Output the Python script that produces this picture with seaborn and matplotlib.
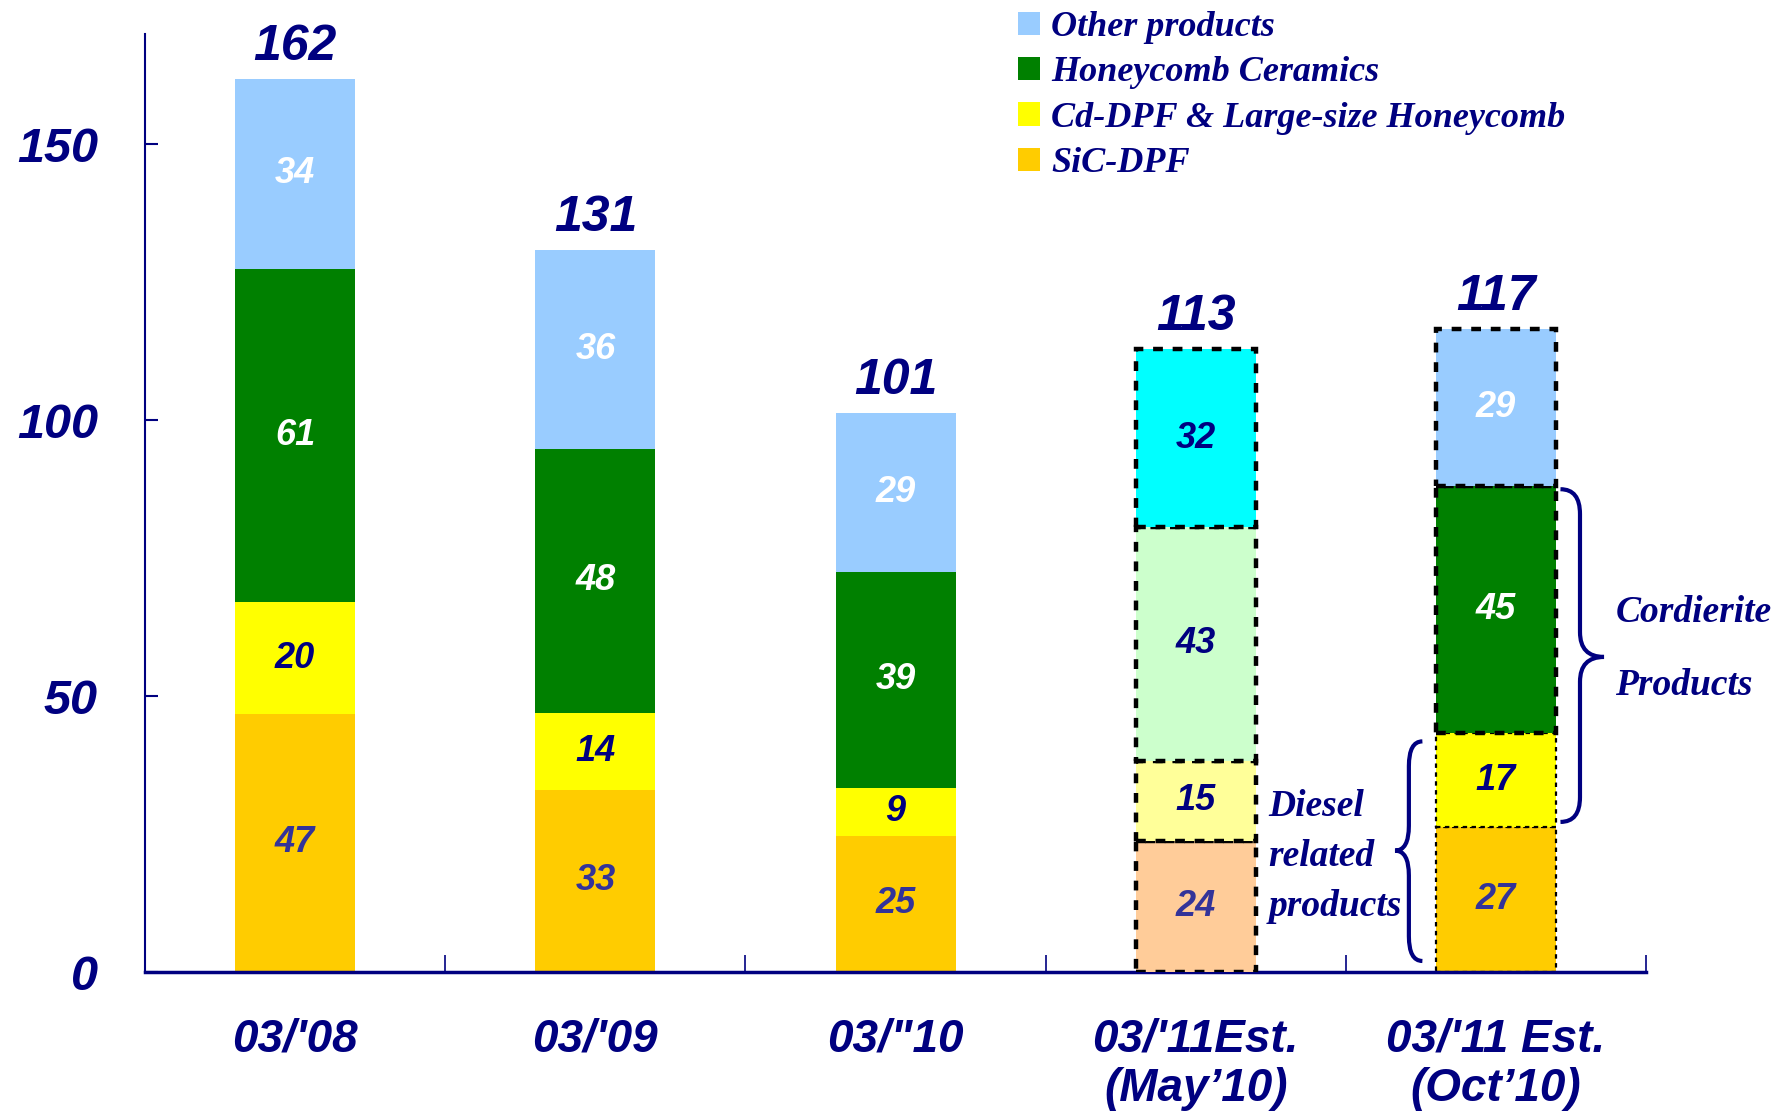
import numpy as np
import matplotlib
matplotlib.use("Agg")
import matplotlib.pyplot as plt
from matplotlib.path import Path
from matplotlib.patches import PathPatch, Patch
from matplotlib import font_manager as fm
import seaborn as sns

# ---------------- data ----------------
categories = ["03/'08", "03/'09", "03/\"10", "03/'11Est.\n(May\u201910)", "03/'11 Est.\n(Oct\u201910)"]
sic_dpf = [46.8, 33.0, 24.7, 23.7, 26.2]
cd_dpf = [20.2, 14.0, 8.7, 14.6, 17.1]
honeycomb = [60.5, 47.8, 39.1, 42.3, 44.7]
other = [34.3, 36.0, 28.9, 32.3, 28.6]
sic_labels = [47, 33, 25, 24, 27]
cd_labels = [20, 14, 9, 15, 17]
honeycomb_labels = [61, 48, 39, 43, 45]
other_labels = [34, 36, 29, 32, 29]
total_labels = [162, 131, 101, 113, 117]
series_names = ["SiC-DPF", "Cd-DPF & Large-size Honeycomb", "Honeycomb Ceramics", "Other products"]
yticks = [0, 50, 100, 150]

# ---------------- style ----------------
sns.set_theme(style="white")
names = {f.name for f in fm.fontManager.ttflist}
NARROW = "Liberation Sans Narrow" if "Liberation Sans Narrow" in names else "Liberation Sans"
SANS = "Liberation Sans" if "Liberation Sans" in names else "DejaVu Sans"
SERIF = "Liberation Serif" if "Liberation Serif" in names else "DejaVu Serif"
plt.rcParams["font.family"] = [SANS, "DejaVu Sans"]
NAVY = "#000080"

base_colors = ["#FFCC00", "#FFFF00", "#008000", "#99CCFF"]
may_colors = ["#FFCC99", "#FFFF99", "#CCFFCC", "#00FFFF"]

fig = plt.figure(figsize=(17.82, 11.11), dpi=100)
ax = fig.add_axes([0.0814, 0.1251, 0.8423, 0.8443])

layers = [sic_dpf, cd_dpf, honeycomb, other]
bottoms = np.zeros(len(categories))
layer_patches = []
for li, vals in enumerate(layers):
    pal = [base_colors[li]] * 3 + [may_colors[li]] + [base_colors[li]]
    n0 = len(ax.patches)
    sns.barplot(x=categories, y=vals, hue=categories, palette=pal, width=0.4,
                legend=False, ax=ax, errorbar=None, saturation=1, linewidth=0)
    ps = ax.patches[n0:]
    ps = sorted(ps, key=lambda p: p.get_x())
    for p, b in zip(ps, bottoms):
        p.set_y(b)
    layer_patches.append(ps)
    bottoms = bottoms + np.array(vals)

# dashed outlines for the estimate bars
for li in range(4):
    p = layer_patches[li][3]
    p.set_edgecolor("black"); p.set_linewidth(3.2); p.set_linestyle((0, (2.2, 2.2)))
    p.set_zorder(3)
    p5 = layer_patches[li][4]
    p5.set_edgecolor("black")
    if li >= 2:
        p5.set_linewidth(3.2); p5.set_linestyle((0, (2.2, 2.2))); p5.set_zorder(3)
    else:
        p5.set_linewidth(1.6); p5.set_linestyle((0, (2, 2))); p5.set_zorder(2.5)

# segment labels
label_sets = [sic_labels, cd_labels, honeycomb_labels, other_labels]
text_colors = [
    ["#333399"] * 5,
    [NAVY] * 5,
    ["white", "white", "white", NAVY, "white"],
    ["white", "white", "white", NAVY, "white"],
]
cum = np.zeros(len(categories))
for li, vals in enumerate(layers):
    for i, v in enumerate(vals):
        ax.text(i, cum[i] + v / 2, str(label_sets[li][i]), ha="center", va="center",
                fontsize=26, fontweight="bold", fontstyle="italic",
                color=text_colors[li][i], zorder=5)
    cum = cum + np.array(vals)

# totals
for i, t in enumerate(total_labels):
    ax.text(i, cum[i] + 1.6, str(t), ha="center", va="bottom", fontsize=36,
            fontweight="bold", fontstyle="italic", color=NAVY, zorder=5)

# axes
ax.set_xlim(-0.5, 4.5)
ax.set_ylim(0, 170)
ax.set_xlabel(""); ax.set_ylabel("")
for s in ["top", "right"]:
    ax.spines[s].set_visible(False)
ax.spines["left"].set_color(NAVY); ax.spines["left"].set_linewidth(1.5)
ax.spines["bottom"].set_color(NAVY); ax.spines["bottom"].set_linewidth(2.5)
ax.set_yticks(yticks)
ax.set_yticklabels([str(y) for y in yticks], fontsize=35, fontweight="bold",
                   fontstyle="italic", color=NAVY, family=[NARROW, "DejaVu Sans"])
ax.tick_params(axis="y", direction="in", length=9, width=1.5, color=NAVY, pad=34, left=True)
ax.set_xticks(range(len(categories)))
ax.set_xticklabels(categories, fontsize=33, fontweight="bold", fontstyle="italic",
                   color=NAVY, family=[NARROW, "DejaVu Sans"], linespacing=1.15)
ax.tick_params(axis="x", which="major", length=0, pad=33)
ax.set_xticks(np.arange(0.5, 5, 1), minor=True)
ax.tick_params(axis="x", which="minor", direction="in", length=12, width=1.2, color=NAVY, bottom=True)
ax.grid(False)

# braces
def brace(x0, xs, xt, ytop, ybot, ymid, r):
    verts = [(x0, ytop), (xs, ytop), (xs, ytop - r), (xs, ymid + r), (xs, ymid), (xt, ymid),
             (xs, ymid), (xs, ymid - r), (xs, ybot + r), (xs, ybot), (x0, ybot)]
    codes = [Path.MOVETO, Path.CURVE3, Path.CURVE3, Path.LINETO, Path.CURVE3, Path.CURVE3,
             Path.CURVE3, Path.CURVE3, Path.LINETO, Path.CURVE3, Path.CURVE3]
    ax.add_patch(PathPatch(Path(verts, codes), fill=False, edgecolor=NAVY, lw=3,
                           clip_on=False, zorder=6))

top_hc = sic_dpf[4] + cd_dpf[4] + honeycomb[4]
top_sic = sic_dpf[4]
brace(4.215, 4.28, 4.36, top_hc - 0.5, top_sic + 1.0, (top_hc + top_sic) / 2, 4.5)
brace(3.755, 3.71, 3.664, top_sic + cd_dpf[4] - 1.5, 2.0, 22.0, 4.5)

ax.text(4.398, 58.5, "Cordierite\n\nProducts", ha="left", va="center", fontsize=27,
        fontweight="bold", fontstyle="italic", color=NAVY, family=SERIF,
        linespacing=1.06, clip_on=False)
ax.text(3.242, 20.9, "Diesel\nrelated\nproducts", ha="left", va="center", fontsize=27,
        fontweight="bold", fontstyle="italic", color=NAVY, family=SERIF,
        linespacing=1.55, clip_on=False)

# legend
handles = [Patch(facecolor=base_colors[i], edgecolor="none") for i in [3, 2, 1, 0]]
labels = [series_names[i] for i in [3, 2, 1, 0]]
leg = fig.legend(handles, labels, loc="upper left", bbox_to_anchor=(0.5713, 0.990),
                 frameon=False, handlelength=0.62, handleheight=0.62, handletextpad=0.3,
                 labelspacing=0.34, borderpad=0.0, borderaxespad=0.0,
                 prop={"family": SERIF, "size": 26, "weight": "bold", "style": "italic"})
for t in leg.get_texts():
    t.set_color(NAVY)

fig.savefig("out.png", dpi=100)
